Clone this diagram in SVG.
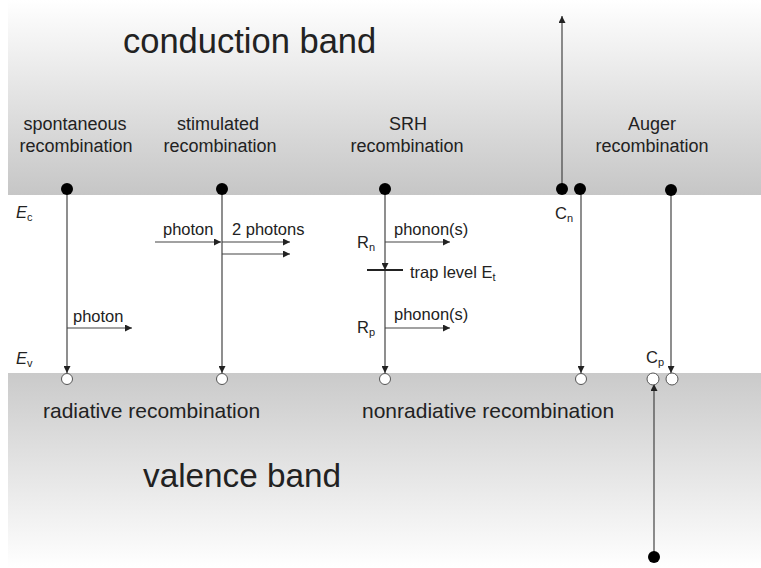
<svg xmlns="http://www.w3.org/2000/svg" width="761" height="568" viewBox="0 0 761 568">
<defs>
<linearGradient id="cb" x1="0" y1="0" x2="0" y2="1">
<stop offset="0" stop-color="#ffffff"/>
<stop offset="1" stop-color="#c6c6c6"/>
</linearGradient>
<linearGradient id="vb" x1="0" y1="0" x2="0" y2="1">
<stop offset="0" stop-color="#cacaca"/>
<stop offset="1" stop-color="#ffffff"/>
</linearGradient>
<marker id="ah" viewBox="0 0 10 10" refX="10" refY="5" markerWidth="7" markerHeight="7" markerUnits="userSpaceOnUse" orient="auto">
<path d="M0,0 L10,5 L0,10 z" fill="#222"/>
</marker>
</defs>
<style>
text{font-family:"Liberation Sans",Arial,sans-serif;fill:#222}
.lbl{font-size:18px;text-anchor:middle}
.bot{font-size:21px}
.big{font-size:34.5px}
.big2{font-size:33.3px}
.sm{font-size:16.5px}
.ln{stroke:#444;stroke-width:1.2;fill:none}
.e{fill:#000}
.h{fill:#fff;stroke:#555;stroke-width:1}
</style>
<rect x="0" y="0" width="761" height="568" fill="#fff"/>
<rect id="conduction" x="8" y="0" width="753" height="195" fill="url(#cb)"/>
<rect id="valence" x="8" y="373" width="753" height="195" fill="url(#vb)"/>
<text class="big" x="123" y="53">conduction band</text>
<text class="big2" x="143" y="487">valence band</text>
<g id="labels">
<text class="lbl" x="75" y="130">spontaneous</text>
<text class="lbl" x="76" y="152">recombination</text>
<text class="lbl" x="218" y="130">stimulated</text>
<text class="lbl" x="220" y="152">recombination</text>
<text class="lbl" x="408" y="130">SRH</text>
<text class="lbl" x="407" y="152">recombination</text>
<text class="lbl" x="652" y="130">Auger</text>
<text class="lbl" x="652" y="152">recombination</text>
<text class="bot" x="43" y="418">radiative recombination</text>
<text class="bot" x="362" y="418">nonradiative recombination</text>
<text class="sm" x="16" y="218" font-style="italic">E<tspan font-size="11" dy="3" font-style="normal">c</tspan></text>
<text class="sm" x="16" y="364" font-style="italic">E<tspan font-size="11" dy="3" font-style="normal">v</tspan></text>
<text class="sm" x="73" y="322">photon</text>
<text class="sm" x="163" y="235">photon</text>
<text class="sm" x="232" y="235">2 photons</text>
<text class="sm" x="394" y="235">phonon(s)</text>
<text class="sm" x="394" y="320">phonon(s)</text>
<text class="sm" x="357" y="248">R<tspan font-size="11" dy="3">n</tspan></text>
<text class="sm" x="357" y="333">R<tspan font-size="11" dy="3">p</tspan></text>
<text class="sm" x="410" y="278">trap level E<tspan font-size="11" dy="3">t</tspan></text>
<text class="sm" x="555" y="219">C<tspan font-size="11" dy="3">n</tspan></text>
<text class="sm" x="646" y="363">C<tspan font-size="11" dy="3">p</tspan></text>
</g>
<g id="connectors">
<line class="ln" x1="67" y1="189" x2="67" y2="373" marker-end="url(#ah)"/>
<line class="ln" x1="67" y1="328" x2="132" y2="328" marker-end="url(#ah)"/>
<line class="ln" x1="222" y1="189" x2="222" y2="373" marker-end="url(#ah)"/>
<line class="ln" x1="155" y1="242" x2="221" y2="242" marker-end="url(#ah)"/>
<line class="ln" x1="222" y1="242" x2="290" y2="242" marker-end="url(#ah)"/>
<line class="ln" x1="222" y1="254" x2="290" y2="254" marker-end="url(#ah)"/>
<line class="ln" x1="385" y1="189" x2="385" y2="270" marker-end="url(#ah)"/>
<line class="ln" x1="385" y1="270" x2="385" y2="373" marker-end="url(#ah)"/>
<line class="ln" x1="385" y1="242" x2="450" y2="242" marker-end="url(#ah)"/>
<line class="ln" x1="385" y1="328" x2="450" y2="328" marker-end="url(#ah)"/>
<line x1="367" y1="270" x2="403" y2="270" stroke="#222" stroke-width="2"/>
<line class="ln" x1="562" y1="189" x2="562" y2="16" marker-end="url(#ah)"/>
<line class="ln" x1="581" y1="189" x2="581" y2="373" marker-end="url(#ah)"/>
<line class="ln" x1="671" y1="189" x2="671" y2="373" marker-end="url(#ah)"/>
<line class="ln" x1="654" y1="556" x2="654" y2="384" marker-end="url(#ah)"/>
</g>
<g id="electrons">
<circle class="e" cx="67" cy="189" r="6"/>
<circle class="e" cx="222" cy="189" r="6"/>
<circle class="e" cx="385" cy="189" r="6"/>
<circle class="e" cx="562" cy="189" r="6"/>
<circle class="e" cx="580" cy="189" r="6"/>
<circle class="e" cx="671" cy="190" r="6"/>
<circle class="e" cx="654" cy="557" r="6"/>
</g>
<g id="holes">
<circle class="h" cx="67" cy="379" r="5.5"/>
<circle class="h" cx="222" cy="379" r="5.5"/>
<circle class="h" cx="385" cy="379" r="5.5"/>
<circle class="h" cx="581" cy="379" r="5.5"/>
<circle class="h" cx="653" cy="379" r="6"/>
<circle class="h" cx="672" cy="379" r="6"/>
</g>
</svg>
